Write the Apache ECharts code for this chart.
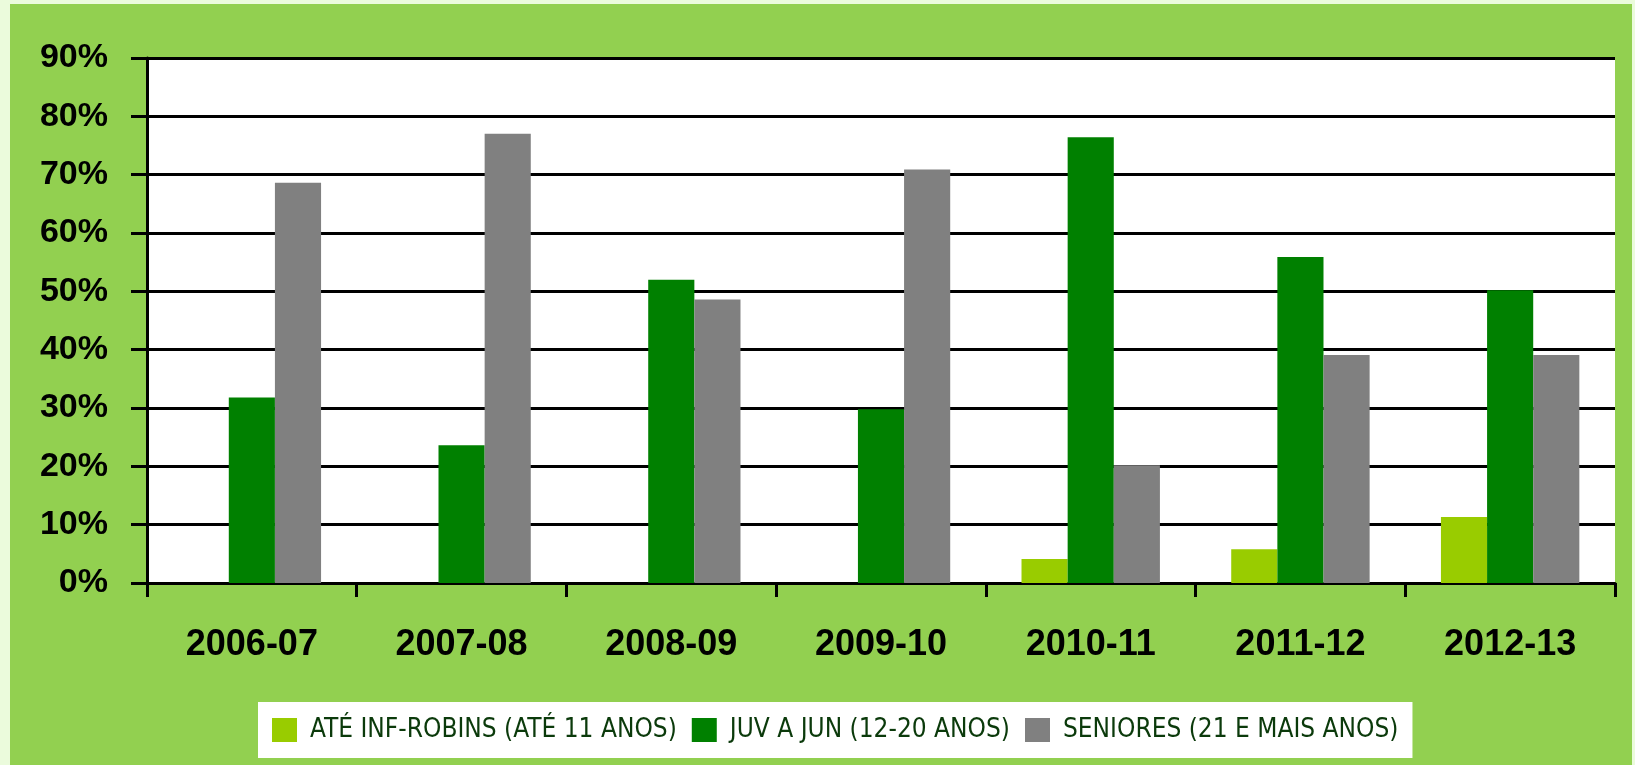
<!DOCTYPE html>
<html>
<head>
<meta charset="utf-8">
<script src="https://cdn.jsdelivr.net/npm/echarts@6/dist/echarts.min.js"></script>
<style>
    html, body { margin: 0; padding: 0; background: #ebfbdc; overflow: hidden; }
    .chart-box { position: absolute; left: 10px; top: 4px; width: 1622px; height: 761px; }
</style>
</head>
<body>
<div class="chart-box"></div>
<script>
// épocas
var seasons = ['2006-07', '2007-08', '2008-09', '2009-10', '2010-11', '2011-12', '2012-13'];
var seriesNames = ['ATÉ INF-ROBINS (ATÉ 11 ANOS)', 'JUV A JUN (12-20 ANOS)', 'SENIORES (21 E MAIS ANOS)'];

// percentagens
var infantis = [0, 0, 0, 0, 4.1, 5.8, 11.3];
var juvJun = [31.8, 23.6, 52.0, 29.8, 76.4, 55.9, 50.2];
var seniores = [68.6, 77.0, 48.6, 70.9, 20.2, 39.1, 39.1];

var yTicks = [0, 90, 10]; // min, max, intervalo

var chart = echarts.init(document.querySelector('.chart-box'));

var option = {
    backgroundColor: '#92d050',
    grid: {
        left: 137,
        top: 54,
        right: 17,
        bottom: 182,
        show: true,
        backgroundColor: '#ffffff',
        borderWidth: 0
    },
    legend: {
        left: 248,
        top: 698,
        backgroundColor: '#ffffff',
        padding: [15, 14, 15, 14],
        itemGap: 15,
        itemWidth: 25,
        itemHeight: 24,
        icon: 'rect',
        textStyle: {
            fontFamily: '"Liberation Sans Narrow", "DejaVu Sans Condensed", sans-serif',
            fontSize: 26,
            color: '#0b3a0b',
            padding: [0, 0, 0, 8]
        },
        data: seriesNames
    },
    xAxis: {
        type: 'category',
        data: seasons,
        axisLine: { lineStyle: { color: '#000', width: 3 } },
        axisTick: { show: true, length: 14, lineStyle: { color: '#000', width: 3 } },
        axisLabel: {
            margin: 44,
            color: '#000',
            fontFamily: '"Liberation Sans", Arial, sans-serif',
            fontWeight: 'bold',
            fontSize: 36
        }
    },
    yAxis: {
        type: 'value',
        min: yTicks[0],
        max: yTicks[1],
        interval: yTicks[2],
        axisLine: { show: true, lineStyle: { color: '#000', width: 3 } },
        axisTick: { show: true, length: 16, lineStyle: { color: '#000', width: 3 } },
        splitLine: { show: true, lineStyle: { color: '#000', width: 3 } },
        axisLabel: {
            margin: 39,
            color: '#000',
            fontFamily: '"Liberation Sans", Arial, sans-serif',
            fontWeight: 'bold',
            fontSize: 34,
            formatter: '{value}%'
        }
    },
    series: [{
        name: seriesNames[0],
        type: 'bar',
        barWidth: '22%',
        barGap: '0%',
        itemStyle: { color: '#99cc00' },
        data: infantis
    }, {
        name: seriesNames[1],
        type: 'bar',
        barWidth: '22%',
        barGap: '0%',
        itemStyle: { color: '#008000' },
        data: juvJun
    }, {
        name: seriesNames[2],
        type: 'bar',
        barWidth: '22%',
        barGap: '0%',
        itemStyle: { color: '#808080' },
        data: seniores
    }]
};

chart.setOption(option);
</script>
</body>
</html>
